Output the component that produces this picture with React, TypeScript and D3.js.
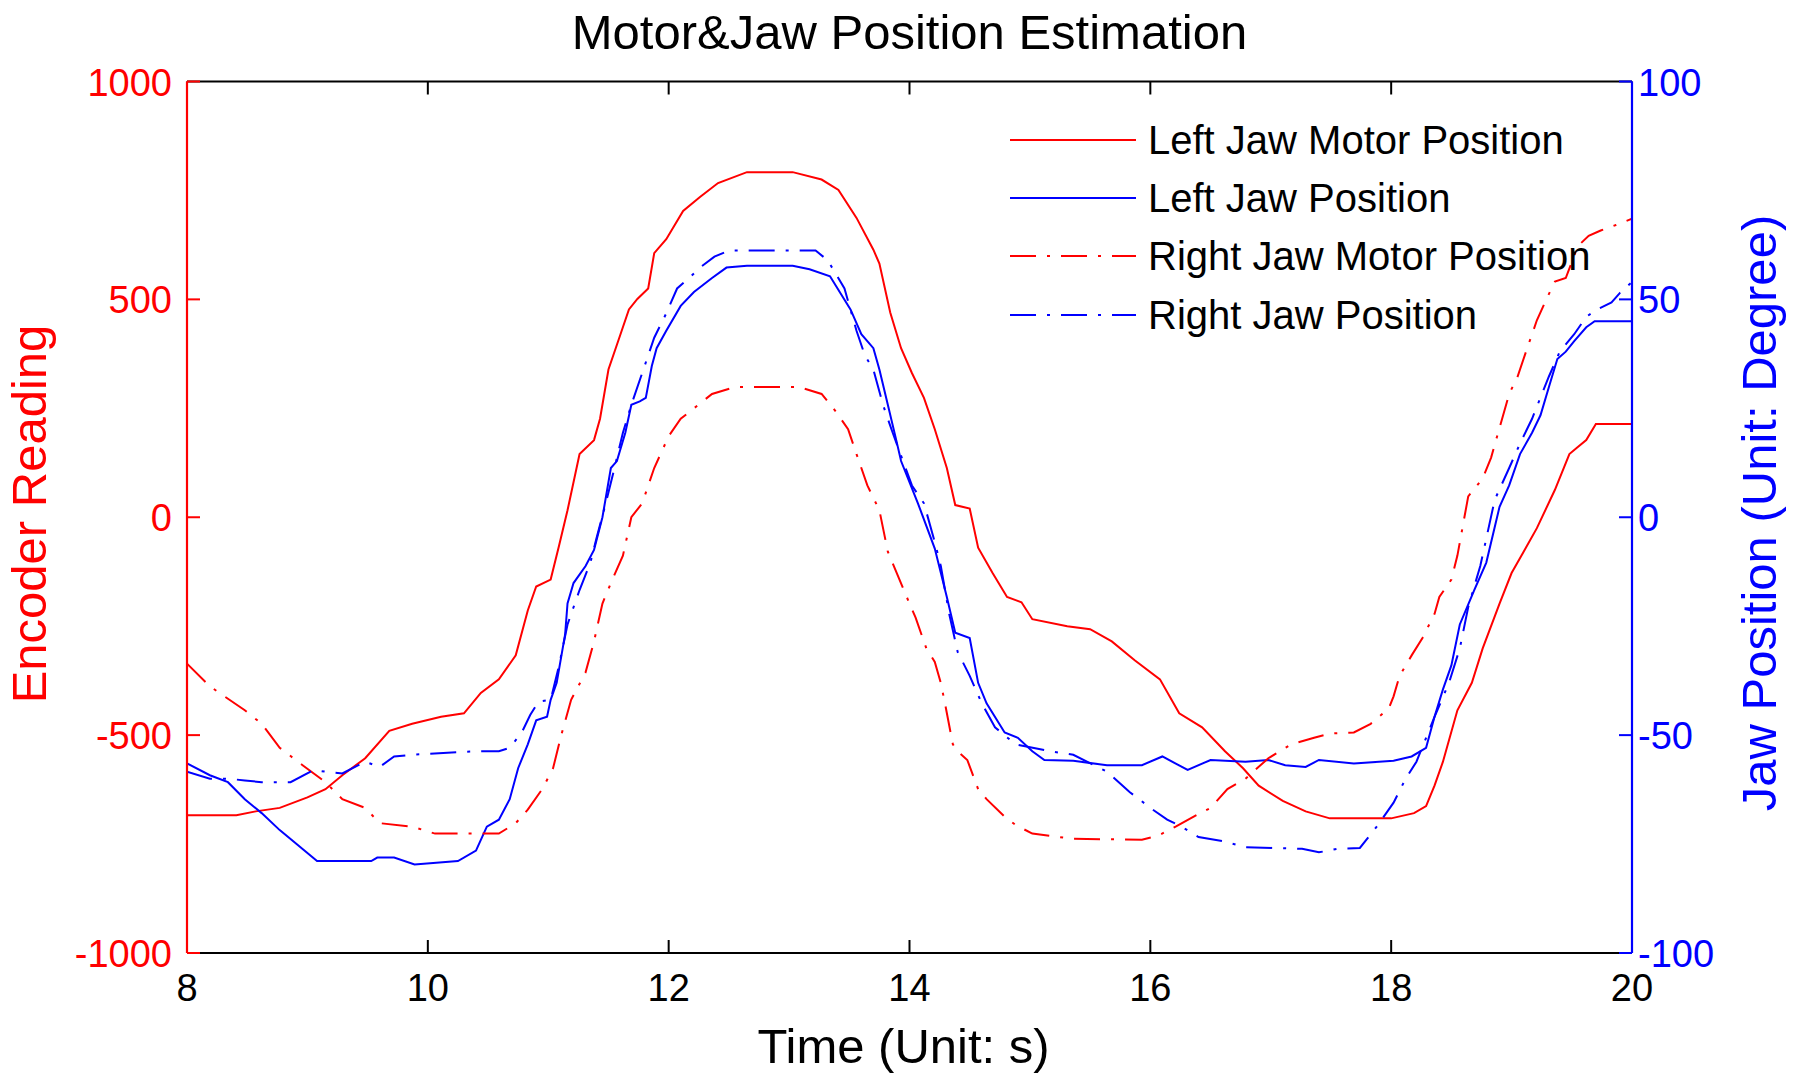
import React from "react";
import * as d3 from "d3";

// ---- Data ----
const leftMotorT = [8, 8.41, 8.57, 8.77, 9.0, 9.15, 9.29, 9.48, 9.68, 9.87, 10.11, 10.3, 10.44, 10.59, 10.73, 10.83, 10.9, 11.02, 11.09, 11.16, 11.26, 11.38, 11.43, 11.5, 11.6, 11.67, 11.74, 11.83, 11.88, 11.98, 12.12, 12.26, 12.41, 12.65, 13.03, 13.27, 13.41, 13.56, 13.7, 13.75, 13.84, 13.93, 14.02, 14.12, 14.21, 14.31, 14.38, 14.5, 14.57, 14.69, 14.81, 14.93, 15.02, 15.31, 15.5, 15.68, 15.87, 16.08, 16.24, 16.43, 16.62, 16.77, 16.9, 17.1, 17.29, 17.49, 18.0, 18.19, 18.29, 18.36, 18.43, 18.55, 18.67, 18.76, 18.9, 19.0, 19.1, 19.21, 19.36, 19.48, 19.55, 19.62, 19.7, 20];
const leftMotor = [-684, -684, -675, -667, -643, -624, -592, -553, -490, -474, -458, -450, -403, -372, -317, -214, -159, -143, -65, 16, 145, 177, 226, 339, 420, 477, 501, 525, 606, 638, 703, 735, 767, 792, 792, 775, 751, 687, 614, 582, 470, 388, 331, 274, 202, 113, 28, 20, -70, -128, -183, -195, -234, -250, -257, -285, -328, -372, -450, -482, -537, -576, -616, -651, -675, -691, -691, -679, -663, -616, -561, -443, -380, -301, -198, -128, -79, -25, 63, 145, 161, 177, 214, 214];

const rightMotorT = [8, 8.19, 8.48, 8.62, 8.77, 8.96, 9.15, 9.29, 9.48, 9.6, 9.87, 10.06, 10.59, 10.73, 10.83, 10.95, 11.04, 11.11, 11.19, 11.31, 11.38, 11.45, 11.52, 11.62, 11.69, 11.78, 11.88, 12.0, 12.1, 12.21, 12.36, 12.55, 13.08, 13.27, 13.39, 13.49, 13.56, 13.65, 13.75, 13.82, 14.0, 14.05, 14.14, 14.21, 14.26, 14.3, 14.36, 14.4, 14.48, 14.57, 14.64, 14.79, 14.88, 15.02, 15.36, 15.93, 16.07, 16.21, 16.36, 16.5, 16.64, 16.79, 16.98, 17.17, 17.36, 17.5, 17.69, 17.83, 17.98, 18.02, 18.07, 18.17, 18.26, 18.36, 18.4, 18.5, 18.55, 18.64, 18.76, 18.83, 18.88, 18.98, 19.05, 19.12, 19.21, 19.29, 19.36, 19.45, 19.55, 19.64, 19.74, 19.86, 20];
const rightMotor = [-336, -388, -443, -474, -529, -569, -608, -647, -667, -702, -710, -726, -726, -702, -671, -624, -576, -498, -419, -356, -285, -198, -151, -88, 0, 32, 113, 186, 226, 250, 283, 299, 299, 283, 242, 202, 145, 73, 16, -79, -198, -230, -301, -332, -380, -435, -521, -537, -557, -624, -647, -687, -706, -726, -738, -740, -730, -710, -687, -667, -624, -600, -553, -521, -506, -496, -494, -474, -439, -411, -364, -317, -277, -222, -183, -143, -88, 48, 89, 137, 186, 283, 323, 380, 452, 501, 541, 549, 622, 646, 658, 670, 685];

const leftJawT = [8, 8.19, 8.34, 8.48, 8.62, 8.77, 8.91, 9.08, 9.53, 9.58, 9.72, 9.89, 10.25, 10.4, 10.49, 10.59, 10.68, 10.75, 10.83, 10.9, 10.99, 11.02, 11.07, 11.14, 11.16, 11.21, 11.31, 11.38, 11.45, 11.52, 11.57, 11.64, 11.69, 11.76, 11.81, 11.86, 11.9, 11.98, 12.1, 12.21, 12.36, 12.48, 12.65, 13.03, 13.17, 13.34, 13.51, 13.6, 13.7, 13.75, 13.82, 13.89, 13.93, 14.07, 14.21, 14.31, 14.38, 14.5, 14.57, 14.64, 14.79, 14.9, 15.02, 15.12, 15.36, 15.64, 15.93, 16.1, 16.31, 16.5, 16.79, 16.98, 17.12, 17.29, 17.4, 17.69, 18.02, 18.17, 18.29, 18.36, 18.43, 18.5, 18.57, 18.69, 18.79, 18.9, 18.98, 19.07, 19.17, 19.24, 19.31, 19.38, 19.45, 19.52, 19.62, 19.69, 20];
const leftJaw = [-56.5, -59.2, -60.8, -64.7, -67.9, -71.8, -75.0, -78.9, -78.9, -78.1, -78.1, -79.7, -78.9, -76.5, -71.0, -69.4, -64.7, -57.6, -52.1, -46.6, -45.8, -41.9, -38.0, -26.9, -19.8, -15.1, -11.2, -7.5, 0, 11.3, 12.9, 19.4, 25.8, 26.6, 27.4, 34.7, 38.8, 42.8, 48.5, 51.7, 54.9, 57.3, 57.7, 57.7, 56.9, 55.3, 47.7, 42.0, 38.8, 33.9, 25.8, 17.7, 12.9, 3.2, -7.2, -18.3, -26.5, -27.7, -38.0, -42.7, -49.4, -50.6, -53.7, -55.7, -55.9, -56.9, -56.9, -54.9, -58.0, -55.7, -56.1, -55.7, -56.9, -57.3, -55.7, -56.5, -55.9, -54.9, -52.9, -45.8, -39.5, -34.0, -24.6, -16.7, -10.4, 2.4, 7.3, 14.5, 19.4, 23.4, 29.9, 36.3, 38.0, 40.4, 43.6, 45.0, 45.0];

const rightJawT = [8, 8.19, 8.34, 8.48, 8.62, 8.86, 9.05, 9.15, 9.29, 9.48, 9.6, 9.72, 9.87, 10.4, 10.59, 10.68, 10.78, 10.85, 10.92, 11.02, 11.09, 11.16, 11.26, 11.35, 11.4, 11.47, 11.55, 11.62, 11.69, 11.78, 11.88, 11.98, 12.07, 12.17, 12.26, 12.38, 12.5, 13.22, 13.32, 13.46, 13.56, 13.63, 13.7, 13.78, 13.85, 14.02, 14.12, 14.21, 14.26, 14.33, 14.4, 14.5, 14.6, 14.71, 14.88, 15.17, 15.36, 15.64, 15.83, 16.02, 16.14, 16.26, 16.4, 16.6, 16.79, 17.26, 17.4, 17.55, 17.74, 17.88, 18.02, 18.12, 18.21, 18.36, 18.48, 18.57, 18.64, 18.74, 18.86, 18.98, 19.07, 19.17, 19.31, 19.4, 19.52, 19.62, 19.71, 19.83, 19.9, 20];
const rightJaw = [-58.4, -60.0, -60.0, -60.4, -60.8, -60.8, -58.0, -58.4, -58.8, -56.1, -57.3, -54.9, -54.5, -53.7, -53.7, -52.9, -49.4, -45.4, -42.3, -41.9, -34.0, -24.6, -16.7, -10.4, -4.9, 2.4, 11.3, 19.4, 25.8, 33.1, 41.2, 46.8, 52.5, 54.9, 57.3, 59.8, 61.2, 61.2, 59.0, 52.5, 42.8, 37.1, 33.9, 25.8, 20.2, 7.3, 3.2, -5.7, -11.2, -22.2, -30.9, -36.4, -42.7, -48.2, -52.1, -53.7, -54.5, -58.4, -63.1, -67.1, -69.4, -71.0, -73.4, -74.3, -75.7, -76.1, -76.9, -76.1, -75.9, -71.0, -65.5, -60.0, -56.1, -45.8, -38.0, -30.1, -20.6, -11.2, 4.0, 11.3, 16.9, 22.6, 32.3, 38.0, 42.0, 46.0, 47.7, 49.3, 51.5, 54.0];

const xTicks = [8, 10, 12, 14, 16, 18, 20];
const leftTicks = [-1000, -500, 0, 500, 1000];
const rightTicks = [-100, -50, 0, 50, 100];
const legendLabels = ["Left Jaw Motor Position", "Left Jaw Position", "Right Jaw Motor Position", "Right Jaw Position"];

const W = 1800;
const H = 1087;
const L = 187, R = 1632, T = 81.5, B = 953;
const FONT = "'Liberation Sans', Arial, sans-serif";
const RED = "#ff0000";
const BLUE = "#0000ff";
const DASHDOT = "26 11 3 11";

export default function App() {
  const x = d3.scaleLinear().domain([8, 20]).range([L, R]);
  const yL = d3.scaleLinear().domain([-1000, 1000]).range([B, T]);
  const yR = d3.scaleLinear().domain([-100, 100]).range([B, T]);

  const mk = (ts: number[], vs: number[], ys: d3.ScaleLinear<number, number>) =>
    d3.line<number>().x((_, i) => x(ts[i])).y((v) => ys(v))(vs) || "";

  const series = [
    { d: mk(leftMotorT, leftMotor, yL), color: RED, dash: undefined as string | undefined },
    { d: mk(leftJawT, leftJaw, yR), color: BLUE, dash: undefined as string | undefined },
    { d: mk(rightMotorT, rightMotor, yL), color: RED, dash: DASHDOT },
    { d: mk(rightJawT, rightJaw, yR), color: BLUE, dash: DASHDOT },
  ];

  const tickLen = 13;
  const tickFont = 38;
  const legendFont = 40;
  const labelFont = 49;
  const legendY = [140, 198, 256, 315];

  return (
    <svg width={W} height={H} style={{ position: "absolute", left: 0, top: 0, background: "#fff" }} fontFamily={FONT}>
      <rect x={0} y={0} width={W} height={H} fill="#fff" />
      <defs>
        <clipPath id="plotclip">
          <rect x={L} y={T} width={R - L} height={B - T} />
        </clipPath>
      </defs>

      {/* data */}
      <g clipPath="url(#plotclip)">
        {series.map((s, i) => (
          <path key={i} d={s.d} fill="none" stroke={s.color} strokeWidth={2} strokeDasharray={s.dash} />
        ))}
      </g>

      {/* top & bottom axes */}
      <line x1={L} x2={R} y1={T} y2={T} stroke="#000" strokeWidth={2.2} />
      <line x1={L} x2={R} y1={B} y2={B} stroke="#000" strokeWidth={2.2} />
      {xTicks.map((t) => (
        <g key={t}>
          <line x1={x(t)} x2={x(t)} y1={B} y2={B - tickLen} stroke="#000" strokeWidth={2} />
          <line x1={x(t)} x2={x(t)} y1={T} y2={T + tickLen} stroke="#000" strokeWidth={2} />
          <text x={x(t)} y={1001} textAnchor="middle" fontSize={tickFont} fill="#000">{t}</text>
        </g>
      ))}

      {/* left axis */}
      <line x1={L} x2={L} y1={T} y2={B} stroke={RED} strokeWidth={2.2} />
      {leftTicks.map((v) => (
        <g key={v}>
          <line x1={L} x2={L + tickLen} y1={yL(v)} y2={yL(v)} stroke={RED} strokeWidth={2} />
          <text x={172} y={yL(v) + 14} textAnchor="end" fontSize={tickFont} fill={RED}>{v}</text>
        </g>
      ))}

      {/* right axis */}
      <line x1={R} x2={R} y1={T} y2={B} stroke={BLUE} strokeWidth={2.2} />
      {rightTicks.map((v) => (
        <g key={v}>
          <line x1={R} x2={R - tickLen} y1={yR(v)} y2={yR(v)} stroke={BLUE} strokeWidth={2} />
          <text x={1638} y={yR(v) + 14} textAnchor="start" fontSize={tickFont} fill={BLUE}>{v}</text>
        </g>
      ))}

      {/* legend */}
      {legendLabels.map((lab, i) => (
        <g key={lab}>
          <line x1={1010} x2={1136} y1={legendY[i]} y2={legendY[i]} stroke={series[i].color} strokeWidth={2} strokeDasharray={series[i].dash} />
          <text x={1148} y={legendY[i] + 14} fontSize={legendFont} fill="#000">{lab}</text>
        </g>
      ))}

      {/* titles */}
      <text x={(L + R) / 2} y={49} textAnchor="middle" fontSize={labelFont} fill="#000">Motor&amp;Jaw Position Estimation</text>
      <text x={(L + R) / 2 - 6} y={1063} textAnchor="middle" fontSize={labelFont} fill="#000">Time (Unit: s)</text>
      <text transform={`translate(46, 514) rotate(-90)`} textAnchor="middle" fontSize={labelFont} fill={RED}>Encoder Reading</text>
      <text transform={`translate(1776, 513) rotate(-90)`} textAnchor="middle" fontSize={labelFont} fill={BLUE}>Jaw Position (Unit: Degree)</text>
    </svg>
  );
}
